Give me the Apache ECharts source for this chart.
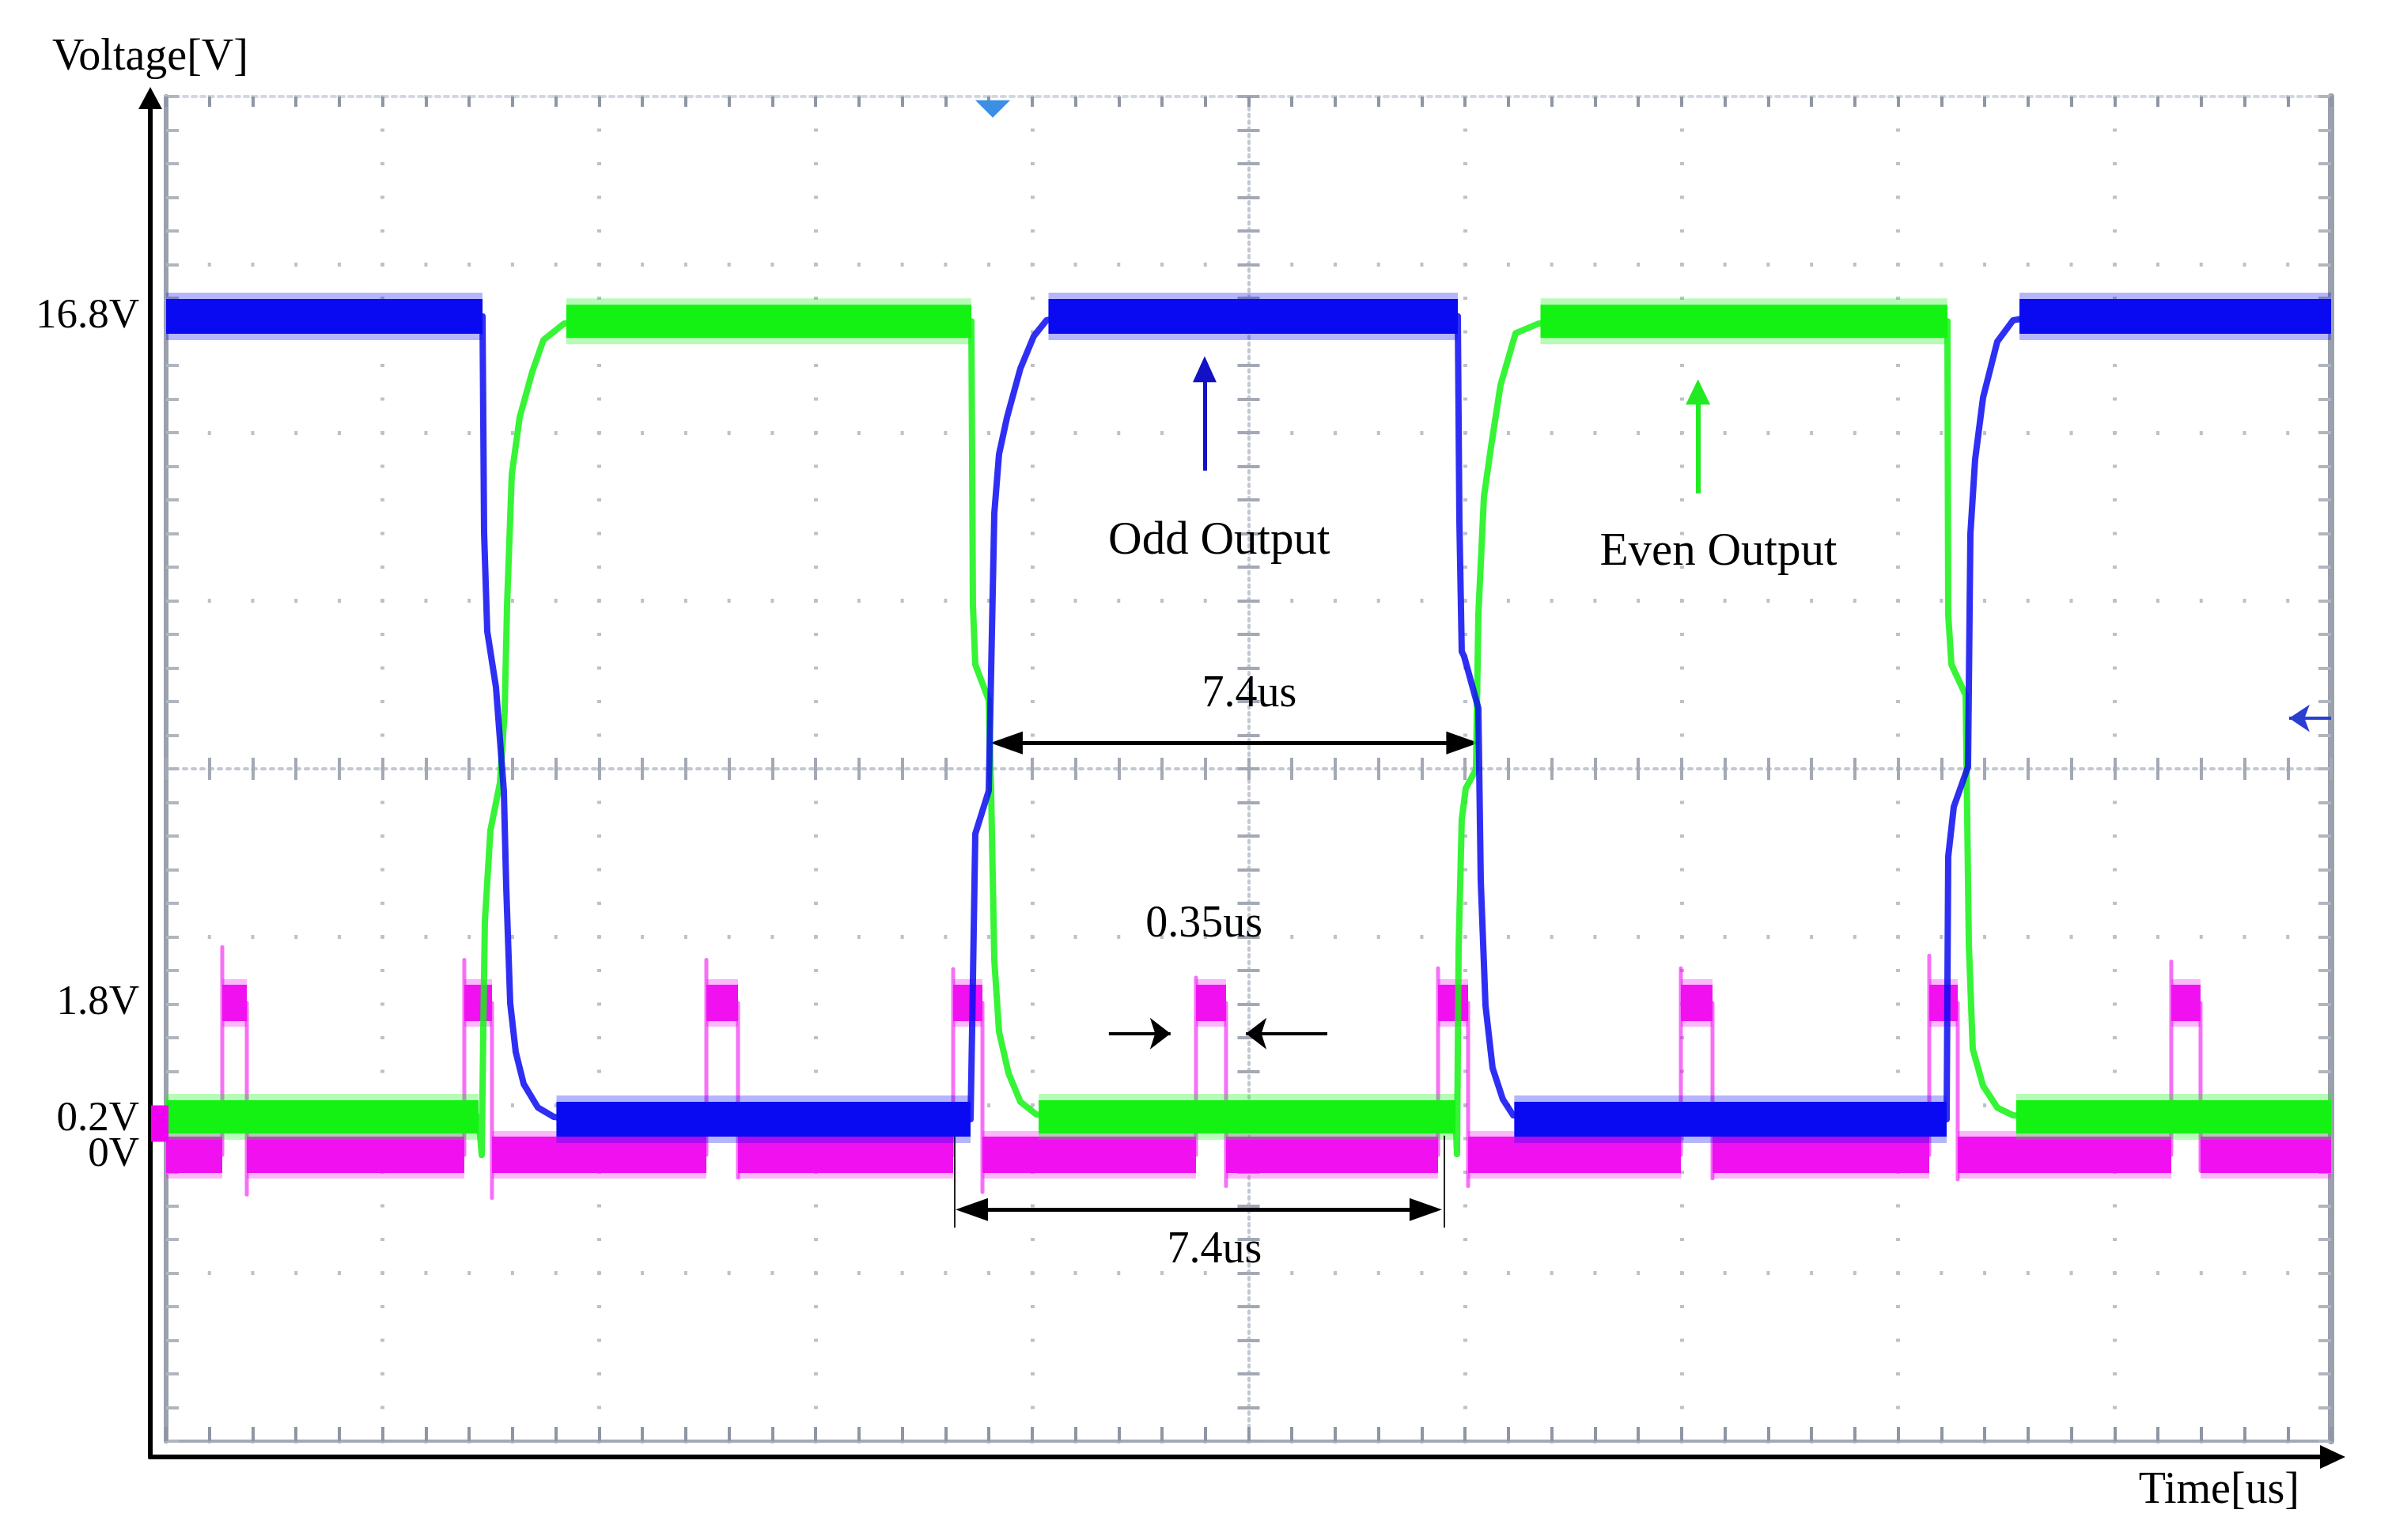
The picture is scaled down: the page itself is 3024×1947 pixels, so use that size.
<!DOCTYPE html>
<html>
<head>
<meta charset="utf-8">
<title>Odd / Even Output</title>
<script src="https://cdn.jsdelivr.net/npm/echarts@6/dist/echarts.min.js"></script>
<style>
html, body { margin: 0; padding: 0; background: #fff; }
#main { width: 3024px; height: 1947px; }
</style>
</head>
<body>
<div id="main"></div>
<script>
// time base of the scope screen (10 divisions), us
var timeMin = 0, timeMax = 33;

// odd output (blue channel): [time us, volt]
var oddOutput = [
  [0, 16.8], [4.823, 16.8], [4.847, 12.32], [4.895, 10.29], [5.028, 9.13], [5.148, 6.99], [5.184, 5.01],
  [5.245, 2.60], [5.329, 1.59], [5.450, 0.93], [5.667, 0.44], [5.908, 0.25], [6.2, 0.2],
  [12.262, 0.2], [12.286, 2.08], [12.334, 6.10], [12.539, 6.99], [12.563, 8.62], [12.624, 12.73],
  [12.696, 13.95], [12.817, 14.71], [13.021, 15.72], [13.226, 16.39], [13.419, 16.72], [13.7, 16.8],
  [19.689, 16.8], [19.713, 12.56], [19.749, 9.87], [19.785, 9.77], [20.002, 8.70], [20.039, 5.12],
  [20.111, 2.55], [20.219, 1.26], [20.376, 0.61], [20.533, 0.28], [20.9, 0.2],
  [27.140, 0.2], [27.164, 5.63], [27.249, 6.66], [27.466, 7.49], [27.502, 12.30], [27.574, 13.84],
  [27.695, 15.12], [27.912, 16.28], [28.153, 16.72], [28.5, 16.8],
  [33, 16.8]
];

// even output (green channel): [time us, volt]
var evenOutput = [
  [0, 0.25], [4.763, 0.25], [4.811, -0.54], [4.835, 2.08], [4.859, 4.30], [4.943, 6.17], [5.088, 7.15],
  [5.160, 8.62], [5.197, 10.83], [5.269, 13.53], [5.389, 14.71], [5.582, 15.66], [5.751, 16.31],
  [6.065, 16.65], [6.3, 16.7],
  [12.274, 16.7], [12.298, 10.83], [12.334, 9.60], [12.539, 8.87], [12.575, 6.99], [12.624, 3.49],
  [12.696, 2.01], [12.841, 1.15], [13.021, 0.56], [13.263, 0.30], [13.6, 0.25],
  [19.653, 0.25], [19.677, -0.52], [19.701, 3.72], [19.749, 6.40], [19.810, 7.04], [19.966, 7.43],
  [20.002, 10.63], [20.087, 13.07], [20.195, 14.10], [20.340, 15.38], [20.569, 16.45], [20.919, 16.65], [21.2, 16.7],
  [27.152, 16.7], [27.164, 10.63], [27.213, 9.60], [27.430, 8.97], [27.478, 3.83], [27.538, 1.65],
  [27.695, 0.89], [27.912, 0.44], [28.153, 0.28], [28.5, 0.25],
  [33, 0.25]
];

// settled (noisy) stretches of each output: [from us, to us, volt]
var oddFlat = [[0, 4.823, 16.8], [5.95, 12.262, 0.2], [13.45, 19.689, 16.8], [20.55, 27.14, 0.2], [28.25, 33, 16.8]];
var evenFlat = [[0, 4.763, 0.25], [6.1, 12.274, 16.7], [13.3, 19.653, 0.25], [20.95, 27.152, 16.7], [28.2, 33, 0.25]];

// 1.8V clock pulses (magenta channel)
var clkRise = [0.856, 4.545, 8.235, 11.997, 15.698, 19.388, 23.089, 26.875, 30.564];
var clkFall = [1.230, 4.967, 8.717, 12.443, 16.156, 19.846, 23.571, 27.309, 31.010];
var clkSpike = [2.46, 2.31, 2.31, 2.20, 2.10, 2.21, 2.21, 2.36, 2.29];
var clkUnder = [-0.47, -0.51, -0.27, -0.44, -0.37, -0.37, -0.28, -0.29, -0.19];
var clkHigh = 1.8, clkLow = 0;

// tick labels
var mainTicks = [16.8, 0.2];
var clkTicks = [1.8, 0];

// annotation texts: [time, volt, text]
var notes = [
  [16.05, 12.15, 'Odd Output'],
  [23.66, 11.91, 'Even Output'],
  [16.51, 8.98, '7.4us'],
  [15.82, 4.22, '0.35us'],
  [15.98, -2.52, '7.4us']
];
// annotation arrows: [t1, v1, t2, v2, kind]
var arrows = [
  [15.83, 13.61, 15.83, 15.71, 'odd'],
  [23.35, 13.14, 23.35, 15.24, 'even'],
  [12.81, 7.98, 19.76, 7.98, 'span'],
  [12.28, -1.67, 19.20, -1.67, 'span'],
  [12.02, -0.14, 12.02, -2.04, 'ext'],
  [19.48, -0.14, 19.48, -2.04, 'ext'],
  [14.37, 1.97, 15.31, 1.97, 'pin'],
  [17.70, 1.97, 16.46, 1.97, 'pin'],
  [33.0, 8.49, 32.36, 8.49, 'level']
];

var serif = 'Liberation Serif';
var tickGray = '#8f96a3';
var oddColor = '#0a0af2', evenColor = '#14f214', clkColor = '#f010f0';

function flatLine(list) {
  var out = [];
  list.forEach(function (s) {
    out.push([s[0], s[2]], [s[1], s[2]], ['-', '-']);
  });
  return out;
}

var clkLine = [[timeMin, clkLow]];
var clkFlat = [];
var prev = timeMin;
clkRise.forEach(function (t, i) {
  clkLine.push([t, clkLow], [t, clkSpike[i]], [t, clkHigh], [clkFall[i], clkHigh], [clkFall[i], clkUnder[i]], [clkFall[i], clkLow]);
  clkFlat.push([prev, t, clkLow], [t, clkFall[i], clkHigh]);
  prev = clkFall[i];
});
clkLine.push([timeMax, clkLow]);
clkFlat.push([prev, timeMax, clkLow]);

var arrowStyle = {
  odd:   {color: '#1212c4', width: 5, s: ['none', 'triangle'], size: [30, 33]},
  even:  {color: '#22ea22', width: 6, s: ['none', 'triangle'], size: [31, 32]},
  span:  {color: '#000', width: 5, s: ['triangle', 'triangle'], size: [29, 41]},
  ext:   {color: '#222', width: 2, s: ['none', 'none'], size: [1, 1]},
  pin:   {color: '#000', width: 4, s: ['none', 'arrow'], size: [30, 26]},
  level: {color: '#2a3fd0', width: 4, s: ['none', 'arrow'], size: [26, 26]}
};
var arrowLines = arrows.map(function (a) {
  var st = arrowStyle[a[4]];
  return [
    {coord: [a[0], a[1]], symbol: st.s[0], symbolSize: st.size, lineStyle: {color: st.color, width: st.width, type: 'solid'}},
    {coord: [a[2], a[3]], symbol: st.s[1], symbolSize: st.size}
  ];
});

function band(name, data, color, width, opacity, yIdx, z) {
  return {
    name: name, type: 'line', xAxisIndex: 0, yAxisIndex: yIdx, data: data, z: z,
    showSymbol: false, symbol: 'none', silent: true, connectNulls: false,
    lineStyle: {color: color, width: width, opacity: opacity, cap: 'butt'}
  };
}
function trace(name, data, color, width, opacity, yIdx, z) {
  return {
    name: name, type: 'line', xAxisIndex: 0, yAxisIndex: yIdx, data: data, z: z,
    showSymbol: false, symbol: 'none', silent: true,
    lineStyle: {color: color, width: width, opacity: opacity, join: 'round'}
  };
}

var chart = echarts.init(document.getElementById('main'));

var option = {
  backgroundColor: '#fff',
  animation: false,
  grid: [
    {left: 210, top: 122, width: 2737, height: 1700, containLabel: false, outerBoundsMode: 'none'},
    {left: 190, top: 124, right: 75, bottom: 105, containLabel: false, outerBoundsMode: 'none'}
  ],
  xAxis: [
    {gridIndex: 0, type: 'value', min: timeMin, max: timeMax, show: false},
    { // bottom edge of the screen and the vertical graticule dots
      gridIndex: 0, type: 'value', min: -5, max: 5, interval: 1, position: 'bottom',
      axisLine: {onZero: false, lineStyle: {color: '#a4aab5', width: 4}},
      axisTick: {inside: true, length: 18, lineStyle: {color: tickGray, width: 4}},
      minorTick: {show: true, splitNumber: 5, length: 18, lineStyle: {color: tickGray, width: 4}},
      splitLine: {show: true, lineStyle: {color: '#bcc1ca', width: 5, type: [4, 38.5], dashOffset: 2}},
      axisLabel: {show: false}
    },
    { // top edge
      gridIndex: 0, type: 'value', min: -5, max: 5, interval: 1, position: 'top',
      axisLine: {onZero: false, lineStyle: {color: '#d3d7e0', width: 4, type: [5, 6]}},
      axisTick: {inside: true, length: 13, lineStyle: {color: tickGray, width: 4}},
      minorTick: {show: true, splitNumber: 5, length: 13, lineStyle: {color: tickGray, width: 4}},
      splitLine: {show: false}, axisLabel: {show: false}
    },
    { // horizontal centre line, ticks below
      gridIndex: 0, type: 'value', min: -5, max: 5, interval: 1, position: 'bottom',
      axisLine: {onZero: true, onZeroAxisIndex: 2, lineStyle: {color: '#c3c8d0', width: 4, type: [4, 7]}},
      axisTick: {length: 14, lineStyle: {color: '#a3a9b4', width: 4}},
      minorTick: {show: true, splitNumber: 5, length: 14, lineStyle: {color: '#a3a9b4', width: 4}},
      splitLine: {show: false}, axisLabel: {show: false}
    },
    { // horizontal centre line, ticks above
      gridIndex: 0, type: 'value', min: -5, max: 5, interval: 1, position: 'top',
      axisLine: {show: false, onZero: true, onZeroAxisIndex: 2},
      axisTick: {length: 14, lineStyle: {color: '#a3a9b4', width: 4}},
      minorTick: {show: true, splitNumber: 5, length: 14, lineStyle: {color: '#a3a9b4', width: 4}},
      splitLine: {show: false}, axisLabel: {show: false}
    },
    {
      gridIndex: 1, type: 'value', min: 0, max: 1,
      name: 'Time[us]', nameLocation: 'end', nameGap: -42, nameMoveOverlap: false,
      nameTextStyle: {fontFamily: serif, fontSize: 56, color: '#000', align: 'right', verticalAlign: 'top', lineHeight: 86},
      axisLine: {onZero: false, symbol: ['none', 'triangle'], symbolSize: [30, 32], lineStyle: {color: '#000', width: 6}},
      axisTick: {show: false}, axisLabel: {show: false}, splitLine: {show: false}
    }
  ],
  yAxis: [
    {
      gridIndex: 0, type: 'value', min: -6.457, max: 21.347, position: 'left',
      axisLine: {show: false, onZero: false}, axisTick: {show: false}, splitLine: {show: false},
      axisLabel: {customValues: mainTicks, formatter: function (v) { return v + 'V'; }, margin: 34,
        fontFamily: serif, fontSize: 53, color: '#000'}
    },
    {
      gridIndex: 0, type: 'value', min: -3.393, max: 12.54, position: 'left',
      axisLine: {show: false, onZero: false}, axisTick: {show: false}, splitLine: {show: false},
      axisLabel: {customValues: clkTicks, formatter: function (v) { return v + 'V'; }, margin: 34,
        fontFamily: serif, fontSize: 53, color: '#000'}
    },
    { // left edge of the screen and horizontal graticule dots
      gridIndex: 0, type: 'value', min: -4, max: 4, interval: 1, position: 'left',
      axisLine: {onZero: false, lineStyle: {color: '#9aa1ad', width: 6}},
      axisTick: {inside: true, length: 16, lineStyle: {color: '#b0b6c0', width: 4}},
      minorTick: {show: true, splitNumber: 5, length: 16, lineStyle: {color: '#b0b6c0', width: 4}},
      splitLine: {show: true, lineStyle: {color: '#bcc1ca', width: 5, type: [4, 50.74], dashOffset: 2}},
      axisLabel: {show: false}
    },
    { // right edge
      gridIndex: 0, type: 'value', min: -4, max: 4, interval: 1, position: 'right',
      axisLine: {onZero: false, lineStyle: {color: '#9aa1ad', width: 8}},
      axisTick: {inside: true, length: 16, lineStyle: {color: '#b0b6c0', width: 4}},
      minorTick: {show: true, splitNumber: 5, length: 16, lineStyle: {color: '#b0b6c0', width: 4}},
      splitLine: {show: false}, axisLabel: {show: false}
    },
    { // vertical centre line, ticks left
      gridIndex: 0, type: 'value', min: -4, max: 4, interval: 1, position: 'left',
      axisLine: {onZero: true, onZeroAxisIndex: 1, lineStyle: {color: '#c3c8d0', width: 4, type: [3, 5.5]}},
      axisTick: {length: 14, lineStyle: {color: '#a3a9b4', width: 4}},
      minorTick: {show: true, splitNumber: 5, length: 14, lineStyle: {color: '#a3a9b4', width: 4}},
      splitLine: {show: false}, axisLabel: {show: false}
    },
    { // vertical centre line, ticks right
      gridIndex: 0, type: 'value', min: -4, max: 4, interval: 1, position: 'right',
      axisLine: {show: false, onZero: true, onZeroAxisIndex: 1},
      axisTick: {length: 14, lineStyle: {color: '#a3a9b4', width: 4}},
      minorTick: {show: true, splitNumber: 5, length: 14, lineStyle: {color: '#a3a9b4', width: 4}},
      splitLine: {show: false}, axisLabel: {show: false}
    },
    {
      gridIndex: 1, type: 'value', min: 0, max: 1,
      name: 'Voltage[V]', nameLocation: 'end', nameGap: 23, nameMoveOverlap: false,
      nameTextStyle: {fontFamily: serif, fontSize: 56, color: '#000', lineHeight: 56},
      axisLine: {onZero: false, symbol: ['none', 'triangle'], symbolSize: [30, 28], lineStyle: {color: '#000', width: 6}},
      axisTick: {show: false}, axisLabel: {show: false}, splitLine: {show: false}
    }
  ],
  series: [
    band('clk fringe', flatLine(clkFlat), clkColor, 60, 0.3, 1, 1),
    band('clk band', flatLine(clkFlat), clkColor, 46, 1, 1, 2),
    trace('clk', clkLine, clkColor, 5, 0.6, 1, 3),
    band('even fringe', flatLine(evenFlat), evenColor, 58, 0.3, 0, 4),
    band('even band', flatLine(evenFlat), evenColor, 42, 1, 0, 4),
    trace('Even Output', evenOutput, evenColor, 8, 0.85, 0, 5),
    band('odd fringe', flatLine(oddFlat), oddColor, 60, 0.3, 0, 6),
    band('odd band', flatLine(oddFlat), oddColor, 44, 1, 0, 6),
    trace('Odd Output', oddOutput, oddColor, 8, 0.85, 0, 7),
    {
      type: 'scatter', xAxisIndex: 0, yAxisIndex: 0, clip: false, silent: true, z: 8,
      itemStyle: {opacity: 1},
      data: [{value: [12.6, 21.09], symbol: 'triangle', symbolRotate: 180, symbolSize: [44, 22], itemStyle: {color: '#3b8fe4', opacity: 1}}]
    },
    {
      type: 'scatter', xAxisIndex: 0, yAxisIndex: 1, clip: false, silent: true, z: 8,
      itemStyle: {opacity: 1},
      data: [{value: [-0.096, 0.37], symbol: 'rect', symbolSize: [22, 46], itemStyle: {color: '#f000f0', opacity: 1}}]
    },
    {
      type: 'scatter', xAxisIndex: 0, yAxisIndex: 0, clip: false, silent: true, z: 10,
      symbolSize: 0, itemStyle: {opacity: 1},
      data: notes.map(function (n) {
        var big = n[2].indexOf('Output') >= 0;
        return {name: n[2], value: [n[0], n[1]], label: {fontSize: big ? 59 : 56}};
      }),
      label: {show: true, position: 'inside', formatter: function (p) { return p.name; },
        fontFamily: serif, fontSize: 56, color: '#000', opacity: 1, textBorderWidth: 0, textBorderColor: 'transparent'},
      markLine: {
        silent: true, animation: false, precision: 4,
        label: {show: false}, emphasis: {disabled: true},
        data: arrowLines
      }
    }
  ]
};

chart.setOption(option);
</script>
</body>
</html>
